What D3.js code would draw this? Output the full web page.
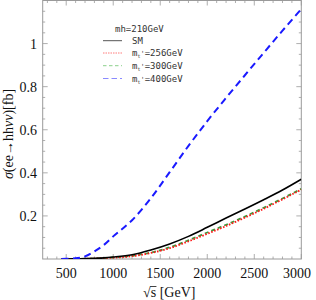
<!DOCTYPE html>
<html><head><meta charset="utf-8">
<script src="https://cdn.jsdelivr.net/npm/d3@7"></script>
<style>body{margin:0;background:#fff}svg{display:block}</style>
</head><body><svg id="c" width="316" height="300"></svg>
<script>
const sqrtS = [450, 500, 600, 700, 800, 900, 1000, 1200, 1400, 1600, 1800, 2000, 2200, 2400, 2600, 2800, 3000];
const sigmaSM   = [0, 0, 0.001, 0.002, 0.003, 0.005, 0.009, 0.02, 0.042, 0.07, 0.105, 0.147, 0.19, 0.232, 0.275, 0.32, 0.37];
const sigma256  = [0, 0, 0, 0.001, 0.002, 0.004, 0.006, 0.013, 0.028, 0.05, 0.082, 0.117, 0.153, 0.192, 0.233, 0.277, 0.322];
const sigma300  = [0, 0, 0, 0.001, 0.002, 0.004, 0.007, 0.015, 0.03, 0.054, 0.087, 0.123, 0.159, 0.197, 0.238, 0.281, 0.326];
const sigma400  = [0, 0.001, 0.003, 0.012, 0.035, 0.065, 0.105, 0.18, 0.282, 0.403, 0.525, 0.64, 0.748, 0.853, 0.957, 1.06, 1.16];
const xTicks = [500, 1000, 1500, 2000, 2500, 3000];
const yTicks = [0.2, 0.4, 0.6, 0.8, 1];
const legendTitle = "mh=210GeV";
const seriesNames = ["SM", "=256GeV", "=300GeV", "=400GeV"];

const svg = d3.select("#c");
const m = {l: 42.7, r: 14.7, t: 0.5, b: 41};
const W = 316, H = 300;
const x = d3.scaleLinear().domain([250, 3000]).range([m.l, W - m.r]);
const y = d3.scaleLinear().domain([0, 1.2]).range([H - m.b, m.t]);

const frameColor = "#9a9a9a";
svg.append("rect").attr("x", m.l).attr("y", m.t).attr("width", W - m.r - m.l).attr("height", H - m.b - m.t)
  .attr("fill", "none").attr("stroke", frameColor).attr("stroke-width", 1);

const xMinor = d3.range(300, 3001, 100);
const yMinor = d3.range(0.05, 1.2, 0.05);
const tk = svg.append("g").attr("stroke", frameColor).attr("stroke-width", 0.8);
xMinor.forEach(v => {
  const major = v % 500 === 0;
  const len = major ? 5 : 2.5;
  tk.append("line").attr("x1", x(v)).attr("x2", x(v)).attr("y1", y(0)).attr("y2", y(0) - len);
  tk.append("line").attr("x1", x(v)).attr("x2", x(v)).attr("y1", m.t).attr("y2", m.t + len);
});
yMinor.forEach(v => {
  const major = Math.abs(v * 5 - Math.round(v * 5)) < 1e-6;
  const len = major ? 5 : 2.5;
  tk.append("line").attr("y1", y(v)).attr("y2", y(v)).attr("x1", m.l).attr("x2", m.l + len);
  tk.append("line").attr("y1", y(v)).attr("y2", y(v)).attr("x1", W - m.r).attr("x2", W - m.r - len);
});

const serif = "'Liberation Serif','Times New Roman',serif";
svg.append("g").selectAll("text").data(xTicks).join("text")
  .attr("x", d => Math.min(x(d), 297)).attr("y", 277.5).attr("text-anchor", "middle")
  .attr("font-family", serif).attr("font-size", 14).attr("fill", "#111").text(d => d);
svg.append("g").selectAll("text").data(yTicks).join("text")
  .attr("x", 37).attr("y", d => y(d) + 5).attr("text-anchor", "end")
  .attr("font-family", serif).attr("font-size", 14).attr("fill", "#111").text(d => d);

const xl = svg.append("text").attr("x", 143).attr("y", 297).attr("font-family", serif).attr("font-size", 14).attr("fill", "#111");
xl.append("tspan").text("√");
xl.append("tspan").text("s");
xl.append("tspan").text(" [GeV]");
{
  const ext = xl.node().getExtentOfChar(1);
  svg.append("line").attr("x1", ext.x - 0.5).attr("x2", ext.x + ext.width + 0.3)
    .attr("y1", ext.y + 1.5).attr("y2", ext.y + 1.5).attr("stroke", "#111").attr("stroke-width", 0.8);
}

const yl = svg.append("text").attr("transform", "translate(13,134) rotate(-90)").attr("text-anchor", "middle")
  .attr("font-family", serif).attr("font-size", 14).attr("fill", "#111");
yl.append("tspan").attr("font-style", "italic").text("σ");
yl.append("tspan").text("(ee→hh");
yl.append("tspan").attr("font-style", "italic").text("νν");
yl.append("tspan").text(")[fb]");

const line = d3.line().x(d => x(d[0])).y(d => y(Math.max(0, d[1]))).curve(d3.curveMonotoneX);
svg.append("clipPath").attr("id", "cp").append("rect")
  .attr("x", m.l).attr("y", m.t).attr("width", W - m.r - m.l).attr("height", H - m.b - m.t);
const series = [
  {v: sigmaSM, color: "#000", dash: null, w: 1.6, lc: "#555", ld: null},
  {v: sigma256, color: "#ff1a1a", dash: "1.6,1.6", w: 1.8, lc: "#ff7a7a", ld: "1.5,1"},
  {v: sigma300, color: "#3c9a3c", dash: "4,3", w: 1.8, lc: "#8cd08c", ld: "3.5,2.5"},
  {v: sigma400, color: "#1a1aff", dash: "7,4.5", w: 2, lc: "#8a8aff", ld: "5.5,3"}
];
const g = svg.append("g").attr("clip-path", "url(#cp)");
[2, 1, 0, 3].forEach(i => {
  const s = series[i];
  g.append("path").datum(sqrtS.map((d, k) => [d, s.v[k]])).attr("d", line)
    .attr("fill", "none").attr("stroke", s.color).attr("stroke-width", s.w)
    .attr("stroke-dasharray", s.dash);
});

const mono = "'DejaVu Sans Mono','Liberation Mono',monospace";
svg.append("text").attr("x", 115).attr("y", 32).attr("font-family", mono).attr("font-size", 9)
  .attr("fill", "#333").text(legendTitle);
const rowsY = [40.7, 53, 65.7, 78.5];
series.forEach((s, i) => {
  svg.append("line").attr("x1", 103).attr("x2", 122).attr("y1", rowsY[i]).attr("y2", rowsY[i])
    .attr("stroke", s.lc).attr("stroke-width", 1).attr("stroke-dasharray", s.ld);
  const t = svg.append("text").attr("x", 132).attr("y", rowsY[i] + 3).attr("font-family", mono)
    .attr("font-size", 9).attr("fill", "#333");
  if (i === 0) {
    t.text(seriesNames[0]);
  } else {
    t.append("tspan").text("m");
    t.append("tspan").attr("font-size", 5).attr("dy", 2).text("t");
    t.append("tspan").attr("font-size", 7).attr("dy", -2).text("'");
    t.append("tspan").text(seriesNames[i]);
  }
});
</script></body></html>
